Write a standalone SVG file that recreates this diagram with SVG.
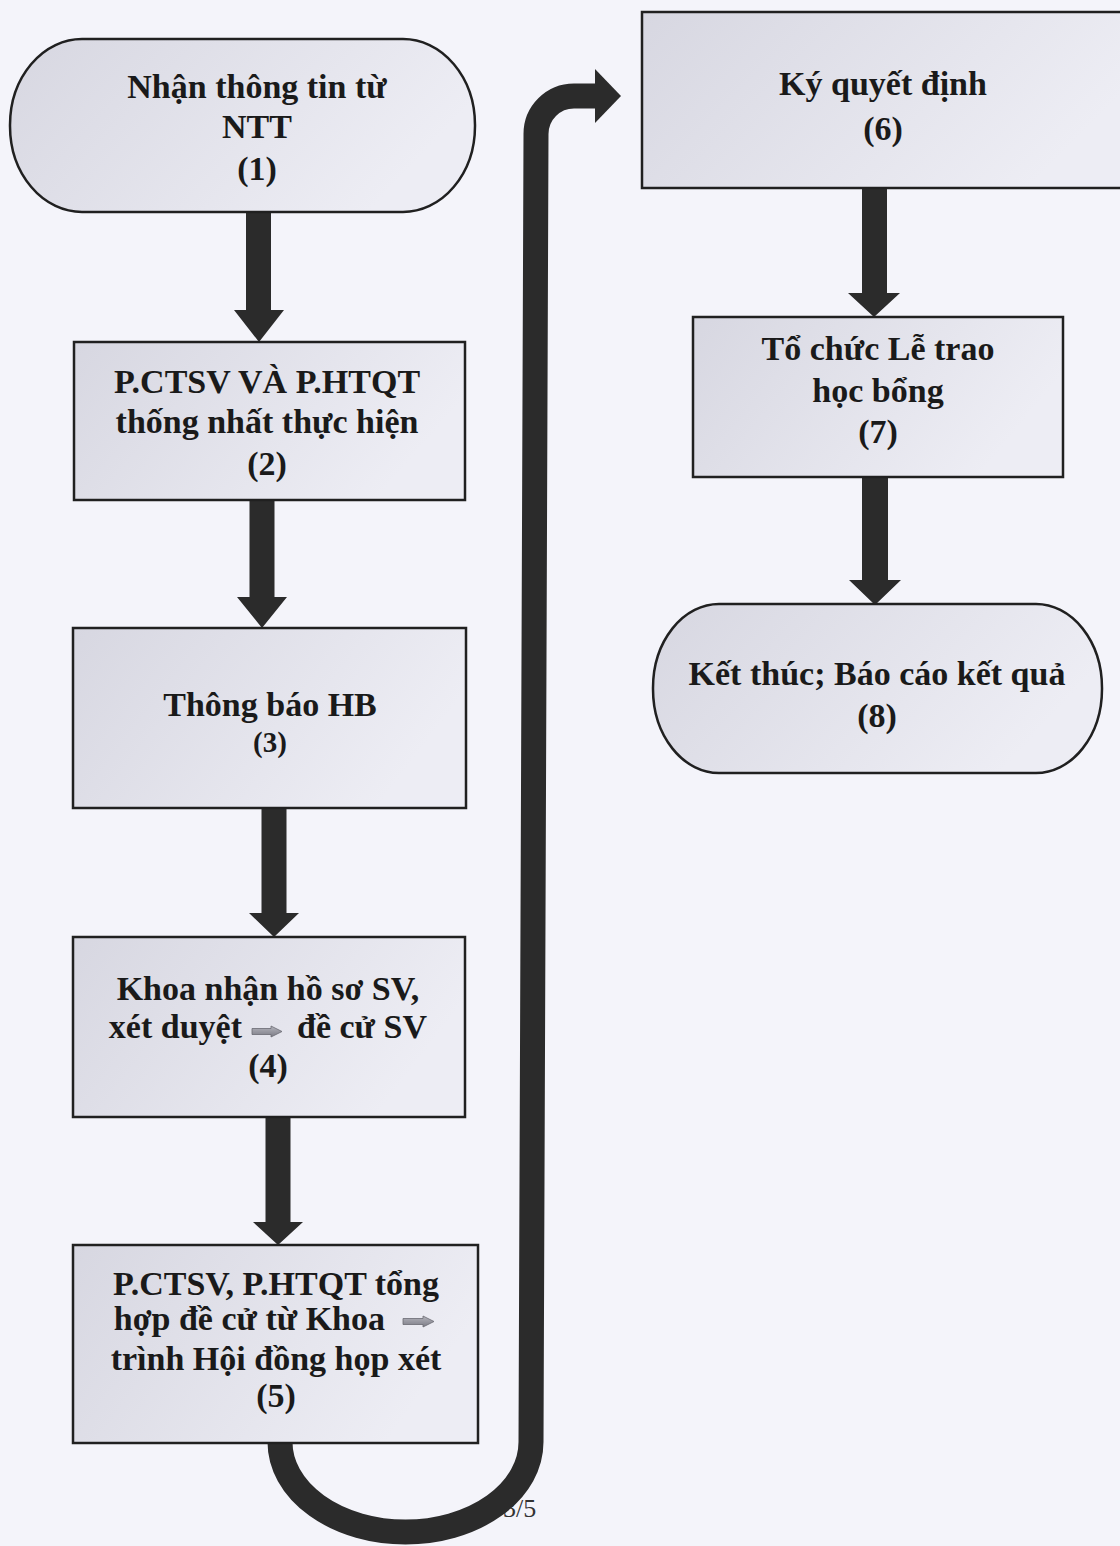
<svg xmlns="http://www.w3.org/2000/svg" width="1120" height="1546" viewBox="0 0 1120 1546">
<defs>
<linearGradient id="fillG" x1="0" y1="0" x2="1" y2="0.35">
<stop offset="0" stop-color="#d7d7e1"/>
<stop offset="1" stop-color="#ededf4"/>
</linearGradient>
<linearGradient id="miniG" x1="0" y1="0" x2="0" y2="1">
<stop offset="0" stop-color="#b4b4bc"/>
<stop offset="1" stop-color="#7c7c86"/>
</linearGradient>
<style>
.box{fill:url(#fillG);stroke:#202020;stroke-width:2.5}
.t{font-family:"Liberation Serif","Times New Roman",serif;font-weight:bold;font-size:34px;fill:#1a1a1a;text-anchor:middle}
.s{font-size:29px}
.arr{fill:#2b2b2b}
.flow{fill:none;stroke:#2b2b2b;stroke-width:25;stroke-linecap:butt;stroke-linejoin:round}
.mini{fill:url(#miniG);stroke:#6a6a72;stroke-width:0.8}
.pg{font-family:"Liberation Serif","Times New Roman",serif;font-size:26px;fill:#333}
</style>
</defs>
<rect x="0" y="0" width="1120" height="1546" fill="#f4f4fa"/>

<text class="pg" x="503" y="1517">3/5</text>

<g id="connectors">
<polygon class="arr" points="246,212 271,212 271,310 284,310 259,342 234,310 246,310"/>
<polygon class="arr" points="249.5,500 274.5,500 274.5,597 287,597 262,628 237,597 249.5,597"/>
<polygon class="arr" points="261.5,808 286.5,808 286.5,913 299,913 274,937 249,913 261.5,913"/>
<polygon class="arr" points="265.5,1117 290.5,1117 290.5,1222 303,1222 278,1245 253,1222 265.5,1222"/>
<polygon class="arr" points="862,188 887,188 887,293 900,293 874,317 848,293 862,293"/>
<polygon class="arr" points="862,477 888,477 888,580 901,580 875,605 849,580 862,580"/>
<path class="flow" d="M 280 1442 A 125.5 90 0 0 0 531 1442 L 536 134 A 38 38 0 0 1 574 96 L 597 96"/>
<polygon class="arr" points="595,69 621,96 595,123"/>
</g>

<g id="node1">
<rect class="box" x="10" y="39" width="465" height="173" rx="72" ry="86"/>
<text class="t" x="257" y="98">Nhận thông tin từ</text>
<text class="t" x="257" y="138">NTT</text>
<text class="t" x="257" y="180">(1)</text>
</g>

<g id="node2">
<rect class="box" x="74" y="342" width="391" height="158"/>
<text class="t" x="267" y="393">P.CTSV VÀ P.HTQT</text>
<text class="t" x="267" y="433">thống nhất thực hiện</text>
<text class="t" x="267" y="475">(2)</text>
</g>

<g id="node3">
<rect class="box" x="73" y="628" width="393" height="180"/>
<text class="t" x="270" y="716">Thông báo HB</text>
<text class="t s" x="270" y="752">(3)</text>
</g>

<g id="node4">
<rect class="box" x="73" y="937" width="392" height="180"/>
<text class="t" x="268" y="1000">Khoa nhận hồ sơ SV,</text>
<text class="t" x="242" y="1038" style="text-anchor:end">xét duyệt</text>
<polygon class="mini" points="252,1028.5 271,1028.5 271,1026 282,1031.5 271,1037 271,1034.5 252,1034.5"/>
<text class="t" x="297" y="1038" style="text-anchor:start">đề cử SV</text>
<text class="t" x="268" y="1077">(4)</text>
</g>

<g id="node5">
<rect class="box" x="73" y="1245" width="405" height="198"/>
<text class="t" x="276" y="1295">P.CTSV, P.HTQT tổng</text>
<text class="t" x="385" y="1330" style="text-anchor:end">hợp đề cử từ Khoa</text>
<polygon class="mini" points="403,1318.5 423,1318.5 423,1316 434,1321.5 423,1327 423,1324.5 403,1324.5"/>
<text class="t" x="276" y="1370">trình Hội đồng họp xét</text>
<text class="t" x="276" y="1407">(5)</text>
</g>

<g id="node6">
<rect class="box" x="642" y="12" width="500" height="176"/>
<text class="t" x="883" y="95">Ký quyết định</text>
<text class="t" x="883" y="140">(6)</text>
</g>

<g id="node7">
<rect class="box" x="693" y="317" width="370" height="160"/>
<text class="t" x="878" y="360">Tổ chức Lễ trao</text>
<text class="t" x="878" y="402">học bổng</text>
<text class="t" x="878" y="443">(7)</text>
</g>

<g id="node8">
<rect class="box" x="653" y="604" width="449" height="169" rx="66" ry="84"/>
<text class="t" x="877" y="685">Kết thúc; Báo cáo kết quả</text>
<text class="t" x="877" y="727">(8)</text>
</g>
</svg>
